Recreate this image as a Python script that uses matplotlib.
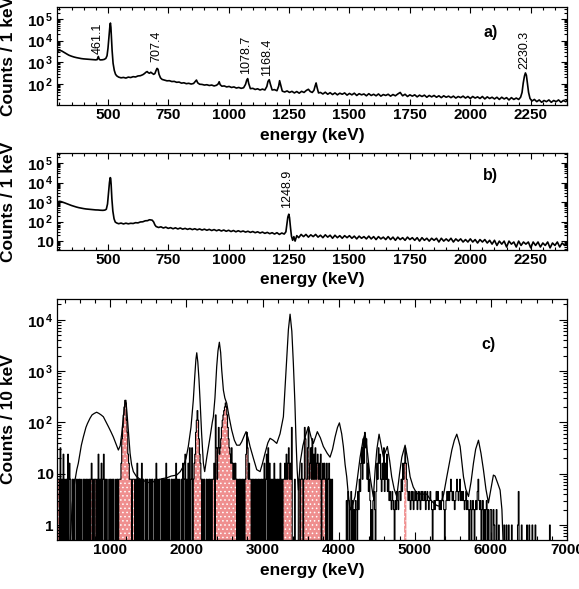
import numpy as np
import matplotlib
matplotlib.use('Agg')
import matplotlib.pyplot as plt
from matplotlib.ticker import LogLocator, FuncFormatter, MultipleLocator, NullFormatter

plt.rcParams['font.family'] = ['Liberation Sans', 'DejaVu Sans']
plt.rcParams['font.weight'] = 'bold'
plt.rcParams['mathtext.fontset'] = 'custom'
plt.rcParams['mathtext.rm'] = 'Liberation Sans:bold'
plt.rcParams['mathtext.bf'] = 'Liberation Sans:bold'
plt.rcParams['mathtext.default'] = 'rm'
plt.rcParams['hatch.color'] = 'white'
plt.rcParams['hatch.linewidth'] = 0.6

# ---- panel a: singles spectrum, 1 keV bins (energy keV, counts) ----
spec_a = [
    (290, 2800), (295, 3300), (300, 3500), (305, 3450), (310, 3300), (315, 3050), (320, 2850),
    (325, 2600), (330, 2400), (335, 2250), (340, 2100), (350, 1900), (360, 1750), (370, 1640),
    (380, 1560), (390, 1480), (400, 1430), (410, 1400), (420, 1360), (430, 1340), (440, 1310),
    (450, 1290), (456, 1320), (461, 1850), (465, 1350), (470, 1280), (478, 1300), (485, 1350),
    (492, 1500), (497, 2000), (501, 4500), (505, 15000), (509, 50000), (511, 65000), (513, 42000),
    (515, 15000), (518, 3500), (522, 900), (527, 420), (532, 280), (537, 235),
    (545, 205), (555, 190), (565, 198), (575, 185), (585, 205), (595, 196), (605, 215), (615, 208),
    (625, 232), (635, 238), (645, 265), (652, 300), (658, 345), (663, 370), (668, 325), (673, 310),
    (678, 345), (683, 315), (690, 275), (695, 300), (700, 420), (704, 520), (708, 470), (712, 280),
    (718, 190), (725, 160), (735, 148), (745, 138), (755, 140), (765, 128), (775, 130), (785, 118),
    (795, 121), (805, 108), (815, 112), (825, 102), (835, 106), (845, 98), (855, 104), (862, 130),
    (867, 150), (872, 112), (880, 96), (890, 94), (900, 88), (910, 91), (920, 84), (930, 88),
    (940, 80), (950, 86), (957, 100), (961, 125), (965, 92), (972, 78), (982, 80), (992, 72),
    (1002, 76), (1012, 68), (1022, 72), (1032, 64), (1042, 68), (1052, 62), (1062, 66), (1070, 95),
    (1075, 150), (1079, 175), (1083, 105), (1090, 60), (1100, 62), (1110, 55), (1120, 59), (1130, 52),
    (1140, 57), (1150, 52), (1158, 75), (1163, 130), (1168, 155), (1173, 95), (1180, 52), (1190, 54),
    (1200, 48), (1207, 78), (1211, 140), (1215, 92), (1222, 46), (1232, 42), (1242, 47), (1252, 40),
    (1262, 45), (1272, 38), (1282, 44), (1292, 37), (1302, 45), (1312, 40), (1322, 50), (1330, 56),
    (1338, 44), (1346, 40), (1353, 50), (1358, 80), (1362, 110), (1366, 68), (1372, 38),
    (1380, 40), (1390, 34), (1400, 41), (1410, 33), (1420, 39), (1430, 32), (1440, 38), (1450, 31),
    (1460, 37), (1470, 33), (1480, 38), (1490, 30), (1500, 36), (1510, 31), (1520, 37), (1530, 29),
    (1540, 35), (1550, 31), (1560, 34), (1570, 28), (1580, 35), (1590, 29), (1600, 33), (1610, 28),
    (1620, 34), (1630, 27), (1640, 32), (1650, 29), (1660, 33), (1670, 27), (1680, 32), (1690, 28),
    (1700, 34), (1710, 40), (1715, 33), (1720, 28), (1730, 33), (1740, 26), (1750, 31), (1760, 27),
    (1770, 31), (1780, 25), (1790, 30), (1800, 26), (1810, 30), (1820, 24), (1830, 29), (1840, 25),
    (1850, 29), (1860, 24), (1870, 28), (1880, 23), (1890, 28), (1900, 24), (1910, 27), (1920, 23),
    (1930, 27), (1940, 22), (1950, 26), (1960, 23), (1970, 27), (1980, 22), (1990, 26), (2000, 21),
    (2010, 26), (2020, 22), (2030, 25), (2040, 21), (2050, 26), (2060, 20), (2070, 25), (2080, 21),
    (2090, 24), (2100, 20), (2110, 24), (2120, 19), (2130, 24), (2140, 20), (2150, 23), (2160, 18),
    (2170, 23), (2180, 19), (2190, 22), (2200, 19), (2208, 24), (2214, 40), (2219, 110), (2224, 230),
    (2228, 320), (2232, 250), (2236, 110), (2241, 40), (2247, 21), (2255, 16), (2265, 19), (2275, 15),
    (2285, 18), (2295, 14), (2305, 17), (2315, 15), (2325, 18), (2335, 14), (2345, 17), (2355, 15),
    (2365, 18), (2375, 14), (2385, 17), (2395, 15), (2400, 17),
]
peaks_a = ['461.1', '707.4', '1078.7', '1168.4', '2230.3']
peaks_a_pos = [(457, 2500), (703, 1000), (1073, 300), (1161, 235), (2225, 490)]

# ---- panel b: gated spectrum, 1 keV bins ----
spec_b = [
    (290, 950), (295, 1050), (300, 1100), (305, 1080), (310, 1030), (320, 930), (330, 830),
    (340, 740), (350, 670), (360, 610), (370, 560), (380, 520), (390, 490), (400, 465), (410, 445),
    (420, 432), (430, 418), (440, 410), (450, 398), (460, 394), (470, 383), (480, 378), (488, 390),
    (494, 430), (499, 800), (503, 3000), (507, 10000), (510, 18000), (512, 17000), (514, 8000),
    (517, 1500), (521, 350), (526, 140), (531, 95), (537, 85),
    (545, 78), (555, 84), (565, 76), (575, 83), (585, 77), (595, 82), (605, 80), (615, 88),
    (625, 86), (635, 96), (645, 98), (655, 110), (665, 112), (672, 124), (678, 122), (684, 118),
    (690, 95), (695, 68), (700, 56),
    (710, 50), (720, 54), (730, 47), (740, 52), (750, 45), (760, 49), (770, 43), (780, 48),
    (790, 42), (800, 47), (810, 41), (820, 45), (830, 40), (840, 44), (850, 39), (860, 43),
    (870, 38), (880, 42), (890, 37), (900, 41), (910, 36), (920, 40), (930, 35), (940, 39),
    (950, 34), (960, 38), (970, 33), (980, 37), (990, 32), (1000, 36), (1010, 31), (1020, 35),
    (1030, 30), (1040, 34), (1050, 30), (1060, 33), (1070, 29), (1080, 32), (1090, 28), (1100, 31),
    (1110, 27), (1120, 30), (1130, 26), (1140, 29), (1150, 25), (1160, 28), (1170, 24), (1180, 27),
    (1190, 23), (1200, 27), (1210, 22), (1220, 26), (1230, 23), (1237, 30), (1241, 70), (1245, 170),
    (1249, 240), (1252, 160), (1256, 50), (1260, 18), (1265, 11), (1270, 17), (1275, 10), (1282, 19),
    (1290, 15), (1300, 22), (1310, 17), (1320, 22), (1330, 16), (1340, 21), (1350, 17), (1360, 22),
    (1370, 16), (1380, 20), (1390, 15), (1400, 21), (1410, 16), (1420, 20), (1430, 14), (1440, 20),
    (1450, 15), (1460, 19), (1470, 14), (1480, 19), (1490, 15), (1500, 19), (1510, 14), (1520, 18),
    (1530, 13), (1540, 18), (1550, 14), (1560, 17), (1570, 13), (1580, 18), (1590, 13), (1600, 17),
    (1610, 12), (1620, 17), (1630, 13), (1640, 16), (1650, 12), (1660, 17), (1670, 12), (1680, 16),
    (1690, 11), (1700, 16), (1710, 12), (1720, 15), (1730, 11), (1740, 16), (1750, 12), (1760, 15),
    (1770, 11), (1780, 15), (1790, 10), (1800, 15), (1810, 11), (1820, 14), (1830, 10), (1840, 14),
    (1850, 11), (1860, 14), (1870, 9), (1880, 14), (1890, 10), (1900, 13), (1910, 10), (1920, 14),
    (1930, 9), (1940, 13), (1950, 10), (1960, 13), (1970, 9), (1980, 12), (1990, 9), (2000, 13),
    (2010, 9), (2020, 12), (2030, 8), (2040, 12), (2050, 9), (2060, 12), (2070, 8), (2080, 11),
    (2090, 7), (2100, 11), (2110, 6), (2120, 10), (2130, 7), (2140, 10), (2150, 5), (2160, 10),
    (2170, 7), (2180, 9), (2190, 5), (2200, 10), (2210, 6), (2220, 9), (2230, 7), (2240, 9),
    (2250, 4.5), (2260, 9), (2270, 6), (2280, 9), (2290, 5), (2300, 8), (2310, 6), (2320, 9),
    (2330, 4.5), (2340, 8), (2350, 6), (2360, 9), (2370, 5), (2380, 8), (2390, 6), (2400, 8),
]
peaks_b = ['1248.9']
peaks_b_pos = [(1241, 480)]

# ---- panel c: total projection (line) and gated histogram, 10 keV bins ----
spec_c = [
    (470, 0.4), (500, 2.5), (520, 5), (540, 8), (560, 12), (580, 16), (600, 24), (620, 36),
    (646, 52), (680, 80), (700, 95), (734, 121), (760, 140), (790, 150), (821, 158), (850, 150),
    (880, 140), (909, 129), (940, 105), (975, 83), (1010, 65), (1040, 52), (1070, 40), (1106, 29),
    (1130, 35), (1150, 60), (1170, 120), (1190, 220), (1205, 270), (1220, 150), (1240, 60),
    (1260, 25), (1280, 15), (1303, 11), (1340, 9), (1380, 8), (1420, 7.5), (1470, 7), (1522, 6.6),
    (1570, 7), (1620, 7.5), (1680, 8), (1741, 8.3), (1800, 9), (1872, 9.4), (1920, 11), (1960, 14),
    (1995, 20), (2025, 34), (2060, 80), (2091, 275), (2110, 800), (2125, 1700), (2136, 2280),
    (2150, 1500), (2165, 700), (2179, 275), (2200, 60), (2223, 16), (2240, 11), (2270, 22),
    (2311, 52), (2340, 100), (2354, 129), (2375, 300), (2398, 1220), (2415, 2500), (2433, 3660),
    (2450, 2300), (2464, 1050), (2486, 425), (2505, 300), (2530, 235), (2560, 130), (2595, 71),
    (2630, 45), (2661, 36), (2700, 36), (2727, 42), (2760, 55), (2784, 66), (2810, 50), (2836, 34),
    (2880, 20), (2924, 12), (2968, 11), (3000, 16), (3033, 25), (3070, 40), (3099, 49), (3140, 45),
    (3187, 39), (3230, 60), (3274, 129), (3300, 600), (3318, 1890), (3340, 6500), (3362, 12900),
    (3385, 6000), (3405, 1420), (3425, 250), (3440, 45), (3455, 12), (3471, 4.8), (3493, 16),
    (3530, 35), (3559, 52), (3603, 83), (3640, 50), (3668, 39), (3720, 66), (3760, 50), (3799, 34),
    (3850, 25), (3887, 21), (3920, 30), (3953, 52), (3985, 80), (4010, 98), (4040, 60), (4062, 34),
    (4085, 15), (4106, 8.7), (4130, 3.5), (4150, 2), (4185, 2.5), (4216, 3.6), (4250, 9), (4282, 21),
    (4320, 45), (4347, 61), (4380, 25), (4413, 8.7), (4456, 3.5), (4480, 12), (4501, 29), (4531, 59),
    (4560, 35), (4588, 21), (4640, 34), (4670, 18), (4697, 8.7), (4730, 5), (4764, 3.6), (4800, 10),
    (4830, 21), (4873, 36), (4905, 20), (4939, 8.7), (4980, 5.5), (5027, 4.1), (5090, 4), (5158, 4),
    (5200, 3.2), (5245, 2.7), (5290, 2.4), (5333, 2.3), (5380, 4), (5421, 8.7), (5455, 16), (5487, 29),
    (5520, 45), (5552, 59), (5575, 45), (5596, 34), (5620, 16), (5640, 8.7), (5670, 5), (5706, 3.6),
    (5740, 7), (5771, 16), (5800, 30), (5837, 45), (5870, 25), (5902, 12), (5935, 5), (5968, 2.7),
    (6000, 5), (6033, 9.4), (6055, 9), (6090, 6.5), (6121, 4.8), (6145, 2), (6165, 0.3),
]

# gated histogram, one character per 10 keV bin from 300 keV, decoded with gate_levels
gate_levels = {'0': 0, '1': 1, '2': 2, '3': 3, '4': 4.5, '5': 7.8, '6': 16, '7': 24, '8': 32,
               '9': 48, 'a': 64, 'b': 80, 'c': 110, 'd': 140, 'e': 170, 'f': 200, 'g': 240, 'h': 270}
gate_code = [
    "5550805070" "5050706500" "5050050505" "0500505050" "5050560505",   # 300-790
    "5050705060" "5705050050" "5050500505" "055569bdfh" "gca7655505",   # 800-1290
    "5505060505" "0605005050" "0505050050" "6050500505" "0506050500",   # 1300-1790
    "5050506050" "5005060570" "5060805805" "67acec9765" "0505005050",   # 1800-2290
    "50505560d8" "58b789bcde" "fgfdb98768" "6565650505" "050505057a",   # 2300-2790
    "8565505050" "5050505050" "5060570806" "0505060505" "0506050556",   # 2800-3290
    "57568565b0" "0050000550" "56505b9558" "b568595758" "5675657056",   # 3300-3790
    "5650605605" "0500000000" "0000000000" "3043024030" "2032042546",   # 3800-4290
    "8596a89564" "5302034204" "6586754658" "4657453432" "4320324324",   # 4300-4790
    "4354656865" "4343243423" "4342343243" "4334234323" "4320232343",   # 4800-5290
    "4323234320" "2343434543" "4323454345" "3434323423" "2023023202",   # 5300-5790
    "3245323023" "0202302002" "2002100200" "1000000100" "1001000100",   # 5800-6290
    "0000014000" "1000000100" "1000100010" "0000000000" "0000000100",   # 6300-6790
    "0000000000" "0000000000",                                         # 6800-6990
]
gate_bin_start = 300
gate_bin_width = 10
red_windows = [(300, 330), (740, 760), (790, 810), (1110, 1310), (2090, 2200), (2350, 2660),
               (2770, 2850), (3270, 3390), (3470, 3820), (4860, 4890)]

BOLD = 'bold'


def log_label(v, pos):
    p = int(round(np.log10(v)))
    if p < 2:
        return '%d' % round(v)
    return r'$10^{\,%d}$' % p


def style_axes(ax, xmaj, xmin_, majlen=4.5, minlen=2.2):
    ax.xaxis.set_major_locator(MultipleLocator(xmaj))
    ax.xaxis.set_minor_locator(MultipleLocator(xmin_))
    ax.yaxis.set_major_locator(LogLocator(base=10, numticks=20))
    ax.yaxis.set_minor_locator(LogLocator(base=10, subs=np.arange(2, 10), numticks=20))
    ax.yaxis.set_minor_formatter(NullFormatter())
    ax.yaxis.set_major_formatter(FuncFormatter(log_label))
    ax.tick_params(which='both', direction='in', top=True, right=True, width=0.8)
    ax.tick_params(which='major', length=majlen, labelsize=11, pad=2.5)
    ax.tick_params(which='minor', length=minlen)
    for lbl in ax.get_xticklabels() + ax.get_yticklabels():
        lbl.set_fontweight(BOLD)
    for s in ax.spines.values():
        s.set_linewidth(0.9)


def set_labels(ax, ylab, xlab_y):
    ax.set_xlabel('energy (keV)', fontsize=12.5, fontweight=BOLD, va='top')
    ax.xaxis.set_label_coords(0.5, xlab_y)
    ax.set_ylabel(ylab, fontsize=12.5, fontweight=BOLD)
    ax.yaxis.set_label_coords(-0.08, 0.5)


fig = plt.figure(figsize=(5.79, 5.89), dpi=100)
W, H = 579.0, 589.0


def add_ax(top, bottom):
    return fig.add_axes([57 / W, 1 - bottom / H, 510 / W, (bottom - top) / H])


# panel a
ax_a = add_ax(7, 105)
ea, ca = np.array(spec_a).T
ax_a.plot(ea, ca, color='black', lw=1.2)
ax_a.set_yscale('log')
ax_a.set_xlim(290, 2400)
ax_a.set_ylim(10.5, 3.6e5)
style_axes(ax_a, 250, 50)
for txt, (x, y) in zip(peaks_a, peaks_a_pos):
    ax_a.text(x, y, txt, rotation=90, ha='center', va='bottom', fontsize=9, fontweight='normal')
ax_a.text(0.85, 0.735, 'a)', transform=ax_a.transAxes, fontsize=11.5, fontweight=BOLD,
          ha='center', va='center')
set_labels(ax_a, 'Counts / 1 keV', -0.235)

# panel b
ax_b = add_ax(153, 250)
eb, cb = np.array(spec_b).T
ax_b.plot(eb, cb, color='black', lw=1.2)
ax_b.set_yscale('log')
ax_b.set_xlim(290, 2400)
ax_b.set_ylim(3.5, 3.3e5)
style_axes(ax_b, 250, 50)
for txt, (x, y) in zip(peaks_b, peaks_b_pos):
    ax_b.text(x, y, txt, rotation=90, ha='center', va='bottom', fontsize=9, fontweight='normal')
ax_b.text(0.85, 0.763, 'b)', transform=ax_b.transAxes, fontsize=11.5, fontweight=BOLD,
          ha='center', va='center')
set_labels(ax_b, 'Counts / 1 keV', -0.227)

# panel c
ax_c = add_ax(299, 540)
floor = 0.05
gate_vals = np.array([gate_levels[ch] for ch in ''.join(gate_code)], dtype=float)
edges = gate_bin_start + gate_bin_width * np.arange(len(gate_vals) + 1)
centers = 0.5 * (edges[:-1] + edges[1:])
in_red = np.zeros(len(gate_vals), dtype=bool)
for lo, hi in red_windows:
    in_red |= (centers > lo) & (centers < hi)
red_vals = np.where(in_red & (gate_vals > 0), gate_vals, floor)
line_vals = np.where(gate_vals > 0, gate_vals, floor)

ax_c.set_yscale('log')
ax_c.stairs(red_vals, edges, baseline=floor, fill=True, facecolor='#ef8f8f',
            edgecolor='white', linewidth=0, hatch='....')
ax_c.stairs(line_vals, edges, baseline=None, color='black', lw=0.8)
ec, cc = np.array(spec_c).T
ax_c.plot(ec, cc, color='black', lw=0.9)
ax_c.set_xlim(300, 7000)
ax_c.set_ylim(0.51, 2.55e4)
style_axes(ax_c, 1000, 200, majlen=5.5, minlen=3)
ax_c.text(0.845, 0.81, 'c)', transform=ax_c.transAxes, fontsize=11.5, fontweight=BOLD,
          ha='center', va='center')
set_labels(ax_c, 'Counts / 10 keV', -0.095)

fig.savefig('out.png', dpi=100)
